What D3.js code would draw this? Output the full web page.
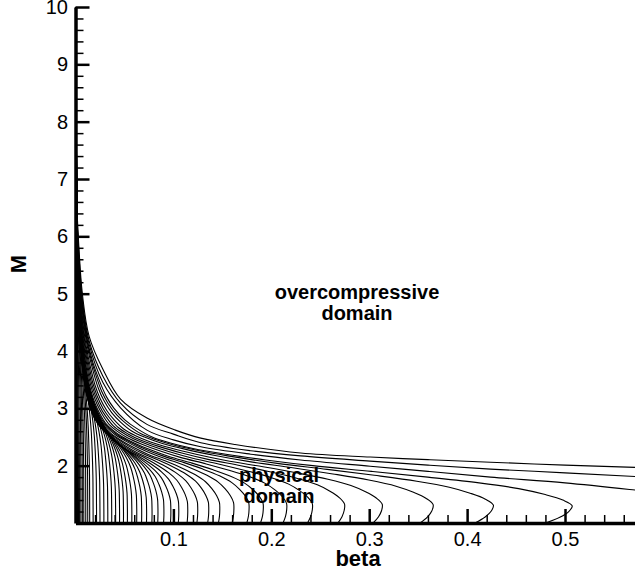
<!DOCTYPE html>
<html>
<head>
<meta charset="utf-8">
<script src="https://cdn.jsdelivr.net/npm/d3@7"></script>
<style>
  body { margin: 0; background: #fff; }
  svg { display: block; font-family: "Liberation Sans", Arial, sans-serif; }
</style>
</head>
<body>
<div id="chart"></div>
<script>
// beta where each curve of the family meets M = 1 (read along the bottom axis)
const footBeta = [0.480, 0.408, 0.352, 0.304, 0.268, 0.237, 0.212, 0.189, 0.175, 0.160,
  0.146, 0.135, 0.124, 0.114, 0.105, 0.097, 0.090, 0.084, 0.078, 0.0725,
  0.0675, 0.0625, 0.0575, 0.053, 0.049, 0.045, 0.041, 0.037, 0.033, 0.029,
  0.025, 0.0215, 0.018, 0.0145, 0.0125, 0.0105, 0.0085, 0.007, 0.0055, 0.004,
  0.003, 0.002];
// how far up (in M) each of those curves keeps its width before bending to the axis
const kneeStretch = [1.0, 1.04, 1.07, 1.09, 1.11, 1.13, 1.145, 1.16, 1.175, 1.19,
  1.20, 1.215, 1.23, 1.25, 1.275, 1.31, 1.35, 1.40, 1.45, 1.50,
  1.56, 1.62, 1.68, 1.75, 1.82, 1.90, 1.98, 2.07, 2.16, 2.26,
  2.37, 2.50, 2.63, 2.78, 2.88, 2.98, 3.10, 3.22, 3.34, 3.46,
  3.58, 3.70];

// shape shared by those curves: beta / foot against M, plus the nose bulge
const profileM = [1.0, 1.1, 1.2, 1.3, 1.4, 1.5, 1.6, 1.7, 1.8, 1.9, 2.0, 2.1, 2.2, 2.3, 2.4,
  2.5, 2.65, 2.8, 3.0, 3.2, 3.5, 3.8, 4.2, 4.6, 5.0, 5.5, 6.0, 6.5, 7.0];
const profileS = [1.000, 0.997, 0.992, 0.985, 0.965, 0.935, 0.895, 0.830, 0.740, 0.630, 0.505,
  0.405, 0.320, 0.250, 0.200, 0.163, 0.130, 0.105, 0.082, 0.066, 0.050, 0.037, 0.025,
  0.0175, 0.012, 0.0075, 0.0045, 0.002, 0.0];
const profileC = [0, 0.07, 0.12, 0.15, 0.15, 0.13, 0.10, 0.06, 0.02, 0, 0,
  0, 0, 0, 0, 0, 0, 0, 0, 0, 0, 0, 0, 0, 0, 0, 0, 0, 0];

// the three upper curves that leave through the right edge, [beta, M]
const topCurve1 = [[0.64,1.93],[0.572,1.97],[0.50,2.01],[0.424,2.06],[0.36,2.105],[0.301,2.15],
  [0.23,2.22],[0.163,2.37],[0.128,2.48],[0.102,2.62],[0.073,2.83],[0.046,3.16],[0.028,3.68],
  [0.014,4.25],[0.007,5.0],[0.003,5.95],[0.001,6.7],[0,7.2]];
const topCurve2 = [[0.64,1.74],[0.572,1.81],[0.50,1.875],[0.424,1.94],[0.36,2.01],[0.301,2.08],
  [0.23,2.17],[0.179,2.26],[0.128,2.40],[0.10,2.55],[0.073,2.72],[0.046,3.09],[0.028,3.56],
  [0.014,4.17],[0.007,4.9],[0.003,5.85],[0.001,6.6],[0,7.1]];
const topCurve3 = [[0.66,1.30],[0.64,1.42],[0.60,1.52],[0.572,1.574],[0.50,1.70],[0.424,1.80],
  [0.36,1.90],[0.301,1.99],[0.23,2.10],[0.179,2.20],[0.128,2.33],[0.10,2.45],[0.073,2.62],
  [0.046,3.01],[0.028,3.45],[0.014,4.11],[0.007,4.82],[0.003,5.75],[0.001,6.5],[0,7.0]];

const xTicks = [0.1, 0.2, 0.3, 0.4, 0.5];
const xMinor = d3.range(1, 29).map(i => i * 0.02).filter(v => Math.abs(v * 10 - Math.round(v * 10)) > 1e-6);
const yTicks = [2, 3, 4, 5, 6, 7, 8, 9, 10];
const yMinor = d3.range(1, 46).map(i => 1 + i * 0.2).filter(v => Math.abs(v - Math.round(v)) > 1e-6);

const width = 635, height = 573;
const x = d3.scaleLinear().domain([0, 0.572]).range([75.5, 635.5]);
const y = d3.scaleLinear().domain([1, 10]).range([523, 7]);

const svg = d3.select("#chart").append("svg")
  .attr("width", width)
  .attr("height", height);

svg.append("defs").append("clipPath").attr("id", "plot")
  .append("rect")
  .attr("x", x(0)).attr("y", y(10))
  .attr("width", width - x(0)).attr("height", y(1) - y(10));

// curves
const curves = footBeta.map((f, k) => profileM.map((m, i) =>
  [f * (profileS[i] + f * profileC[i]), 1 + (m - 1) * kneeStretch[k]]));
curves.unshift(topCurve1, topCurve2, topCurve3);

const line = d3.line()
  .x(d => x(d[0]))
  .y(d => y(d[1]))
  .curve(d3.curveCatmullRom.alpha(0.5));

svg.append("g").attr("clip-path", "url(#plot)")
  .selectAll("path")
  .data(curves)
  .enter().append("path")
  .attr("d", line)
  .attr("fill", "none")
  .attr("stroke", "#000")
  .attr("stroke-width", 1.1);

// axes
const gx = svg.append("g").attr("transform", `translate(0,${y(1)})`);
gx.call(d3.axisBottom(x).tickValues(xMinor).tickSize(-8).tickSizeOuter(0).tickFormat(""));
gx.call(g => g.selectAll(".tick line").attr("stroke-width", 1.5));
const gxMajor = svg.append("g").attr("transform", `translate(0,${y(1)})`)
  .call(d3.axisBottom(x).tickValues(xTicks).tickSize(-14).tickSizeOuter(0)
    .tickPadding(8.5).tickFormat(d3.format(".1f")));
gxMajor.selectAll(".tick line").attr("stroke-width", 2.5);
gxMajor.select(".domain").remove();
gx.select(".domain").attr("stroke-width", 3.5);

const gy = svg.append("g").attr("transform", `translate(${x(0)},0)`);
gy.call(d3.axisLeft(y).tickValues(yMinor).tickSize(-8).tickSizeOuter(0).tickFormat(""));
gy.call(g => g.selectAll(".tick line").attr("stroke-width", 1.5));
const gyMajor = svg.append("g").attr("transform", `translate(${x(0)},0)`)
  .call(d3.axisLeft(y).tickValues(yTicks).tickSize(-14).tickSizeOuter(0).tickPadding(7.5));
gyMajor.selectAll(".tick line").attr("stroke-width", 2.5);
gyMajor.select(".domain").remove();
gy.select(".domain").attr("stroke-width", 3.5);

svg.selectAll(".tick text")
  .attr("font-family", "Liberation Sans, Arial, sans-serif")
  .attr("font-size", 20)
  .attr("font-weight", "normal")
  .attr("fill", "#000");

// axis titles
svg.append("text")
  .attr("x", 358).attr("y", 566)
  .attr("text-anchor", "middle")
  .attr("font-weight", "bold").attr("font-size", 22)
  .text("beta");
svg.append("text")
  .attr("transform", "translate(26,264) rotate(-90)")
  .attr("text-anchor", "middle")
  .attr("font-weight", "bold").attr("font-size", 22)
  .text("M");

// domain labels
const notes = [
  {t: "overcompressive", x: 357, y: 299},
  {t: "domain", x: 357, y: 320},
  {t: "physical", x: 279, y: 482},
  {t: "domain", x: 279, y: 503}
];
svg.selectAll(".note")
  .data(notes)
  .enter().append("text")
  .attr("class", "note")
  .attr("x", d => d.x).attr("y", d => d.y)
  .attr("text-anchor", "middle")
  .attr("font-weight", "bold").attr("font-size", 20)
  .text(d => d.t);
</script>
</body>
</html>
